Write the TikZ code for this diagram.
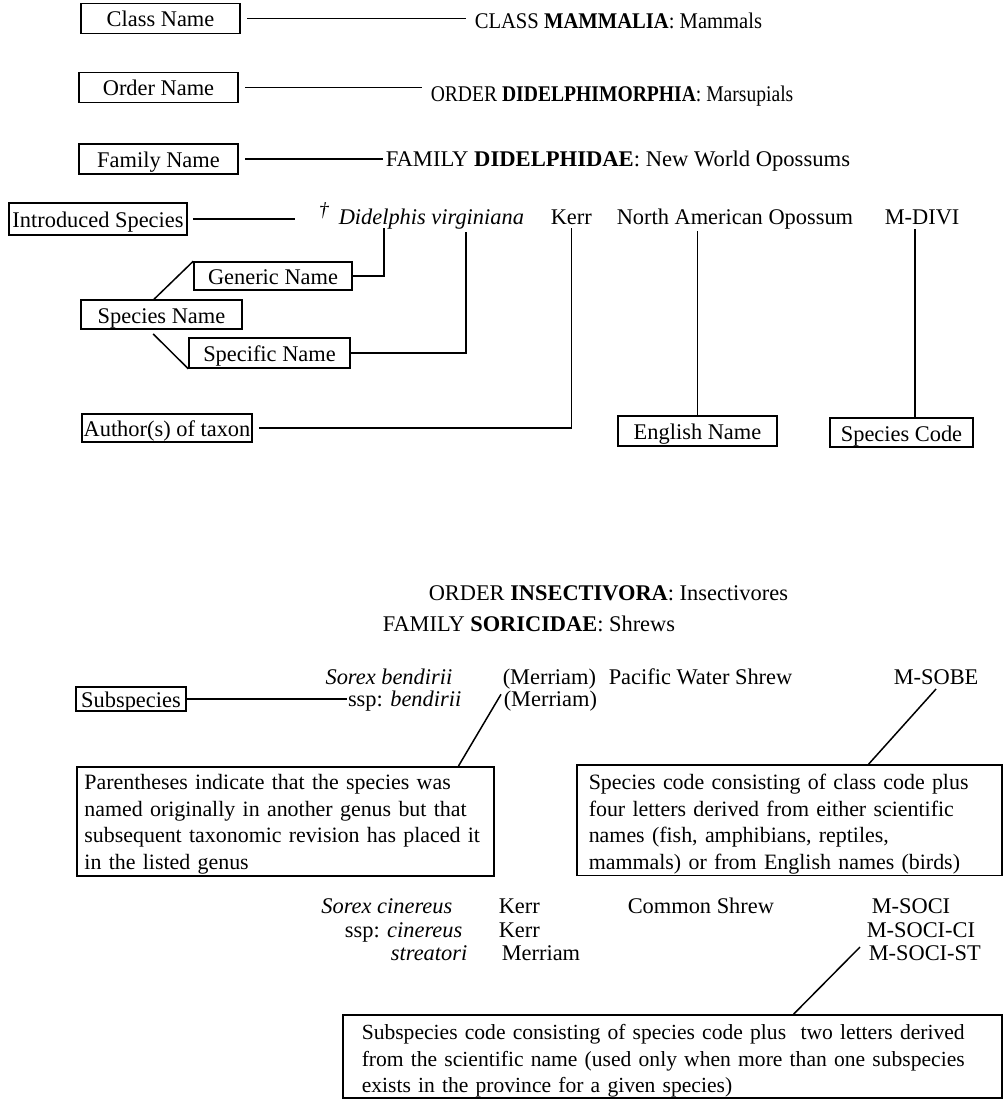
\documentclass[tikz,border=0pt]{standalone}
\usepackage{fontspec}
\setmainfont{Liberation Serif}

\begin{document}
\begin{tikzpicture}[x=0.6pt,y=-0.6pt,line width=0.9pt,
	font=\fontsize{13.44}{15.9}\selectfont,
	namebox/.style={draw, inner xsep=1pt, inner ysep=0pt, text height=10.2pt, text depth=0pt},
	notebox/.style={draw, anchor=north west, align=left, inner ysep=0pt},
	txt/.style={inner sep=0pt, anchor=base west},
	rtxt/.style={inner sep=0pt, anchor=base east}]
	\useasboundingbox (0,0) rectangle (1003,1099);

	\foreach \nm/\cx/\cy/\lbl/\gap/\tx/\ty/\sx/\heading in {
		cls/160.5/18.5/Class Name/8/474/29/0.92/{CLASS \textbf{MAMMALIA}: Mammals},
		ord/158.5/87.5/Order Name/8/430/102/0.875/{ORDER \textbf{DIDELPHIMORPHIA}: Marsupials},
		fam/158.5/159/Family Name/2/385/167/1.01/{FAMILY \textbf{DIDELPHIDAE}: New World Opossums}} {
		\node[namebox, minimum width=95.4pt, minimum height=18pt] (\nm) at (\cx,\cy) {\lbl};
		\node[txt] (\nm-txt) at (\tx,\ty) {\scalebox{\sx}[1]{\heading}};
		\draw ([xshift=4pt]\nm.east) -- ([xshift=-\gap*0.6pt]\nm.east -| \nm-txt.west);
	}

	\node[namebox, minimum width=106.8pt, minimum height=19.2pt] (intro) at (98,219) {Introduced Species};
	\node[txt] (didel) at (318,225) {\itshape\textsuperscript{\large †}\hspace{5.5pt}Didelphis virginiana};
	\node[txt] (kerr) at (550,225) {Kerr};
	\node[txt] (nao) at (616,225) {North American Opossum};
	\node[txt] (mdivi) at (884,225) {M-DIVI};
	\draw ([xshift=3pt]intro.east) -- ([xshift=-13.8pt]intro.east -| didel.west);

	\node[namebox, minimum width=94.8pt, minimum height=16.8pt] (gen) at (273,276) {Generic Name};
	\node[namebox, minimum width=96.6pt, minimum height=17.4pt] (spn) at (161.5,314.5) {Species Name};
	\node[namebox, minimum width=96.6pt, minimum height=18pt] (spec) at (269.5,353) {Specific Name};
	\coordinate (genpt) at (384,228);
	\coordinate (sppt) at (466,232);
	\draw (gen.east) -| (genpt);
	\draw (spec.east) -| (sppt);
	\draw ([xshift=-4.5pt]spn.north) -- (gen.north west);
	\draw ([xshift=-5pt,yshift=-2.5pt]spn.south) -- (spec.south west);

	\node[namebox, minimum width=102pt, minimum height=17pt] (auth) at (167,428) {Author(s) of taxon};
	\node[namebox, minimum width=95.4pt, minimum height=18pt] (eng) at (697.5,431) {English Name};
	\node[namebox, minimum width=85.8pt, minimum height=17.4pt] (spc) at (901.5,432.5) {Species Code};
	\draw ([xshift=4pt]auth.east) -| ([yshift=-1.2pt]kerr.south);
	\draw (eng.north) -- (eng.north |- nao.south);
	\draw ([xshift=8.1pt]spc.north) -- ([xshift=8.1pt,yshift=-2pt]spc.north |- mdivi.south);

	% second example
	\node[txt] (ins) at (428,600) {ORDER \textbf{INSECTIVORA}: Insectivores};
	\node[txt] (sor) at (382,631) {FAMILY \textbf{SORICIDAE}: Shrews};

	\node[rtxt] (sbe) at (453,684) {\itshape Sorex bendirii};
	\node[txt] (merr1) at (502,684) {(Merriam)};
	\node[txt] (pws) at (608,684) {Pacific Water Shrew};
	\node[txt] (msobe) at (893,684) {M-SOBE};
	\node[rtxt] (sspb) at (462,706) {ssp: \textit{bendirii}};
	\node[txt] (merr2) at (503,706) {(Merriam)};
	\node[namebox, minimum width=66pt, minimum height=14.4pt] (subsp) at (131,699) {Subspecies};
	\draw (subsp.east) -- (subsp.east -| sspb.west);

	\node[notebox, inner xsep=4.6pt, text width=241pt,
		font=\fontsize{13.15}{15.9}\selectfont] (parbox) at (76,766)
		{\rule{0pt}{13.8pt}Parentheses indicate that the species was\\ named originally in another genus but that\\
		subsequent taxonomic revision has placed it\\ in the listed genus\rule[-3.9pt]{0pt}{3.9pt}};
	\node[notebox, inner xsep=7.2pt, text width=240.6pt,
		font=\fontsize{13.15}{15.9}\selectfont] (spbox) at (576,764)
		{\rule{0pt}{15pt}Species code consisting of class code plus\\ four letters derived from either scientific\\
		names (fish, amphibians, reptiles,\\ mammals) or from English names (birds)\rule[-3.6pt]{0pt}{3.6pt}};
	\draw ([xshift=-1.2pt,yshift=3.8pt]merr2.west) -- ([xshift=-21.6pt]parbox.north east);
	\draw ([yshift=-2.4pt]msobe.south) -- ([xshift=47.7pt]spbox.north);

	\node[rtxt] (sci) at (453,913) {\itshape Sorex cinereus};
	\node[rtxt] (sspc) at (463,937) {ssp: \textit{cinereus}};
	\node[rtxt] (sstr) at (468,960) {\itshape streatori};
	\node[txt] (kerr1) at (498,913) {Kerr};
	\node[txt] (kerr2) at (498,937) {Kerr};
	\node[txt] (merr3) at (501,960) {Merriam};
	\node[txt] (csh) at (627,913) {Common Shrew};
	\node[txt] (soci) at (871,913) {M-SOCI};
	\node[txt] (socici) at (866,937) {M-SOCI-CI};
	\node[txt] (socist) at (868,960) {M-SOCI-ST};

	\node[notebox, inner xsep=11.4pt, text width=372.6pt,
		font=\fontsize{12.95}{15.9}\selectfont] (subbox) at (342,1014)
		{\rule{0pt}{15pt}Subspecies code consisting of species code plus~ two letters derived\\
		from the scientific name (used only when more than one subspecies\\
		exists in the province for a given species)\rule[-3pt]{0pt}{3pt}};
	\draw ([xshift=-4.8pt,yshift=3.4pt]socist.west) -- ([xshift=72.9pt]subbox.north);
\end{tikzpicture}
\end{document}
